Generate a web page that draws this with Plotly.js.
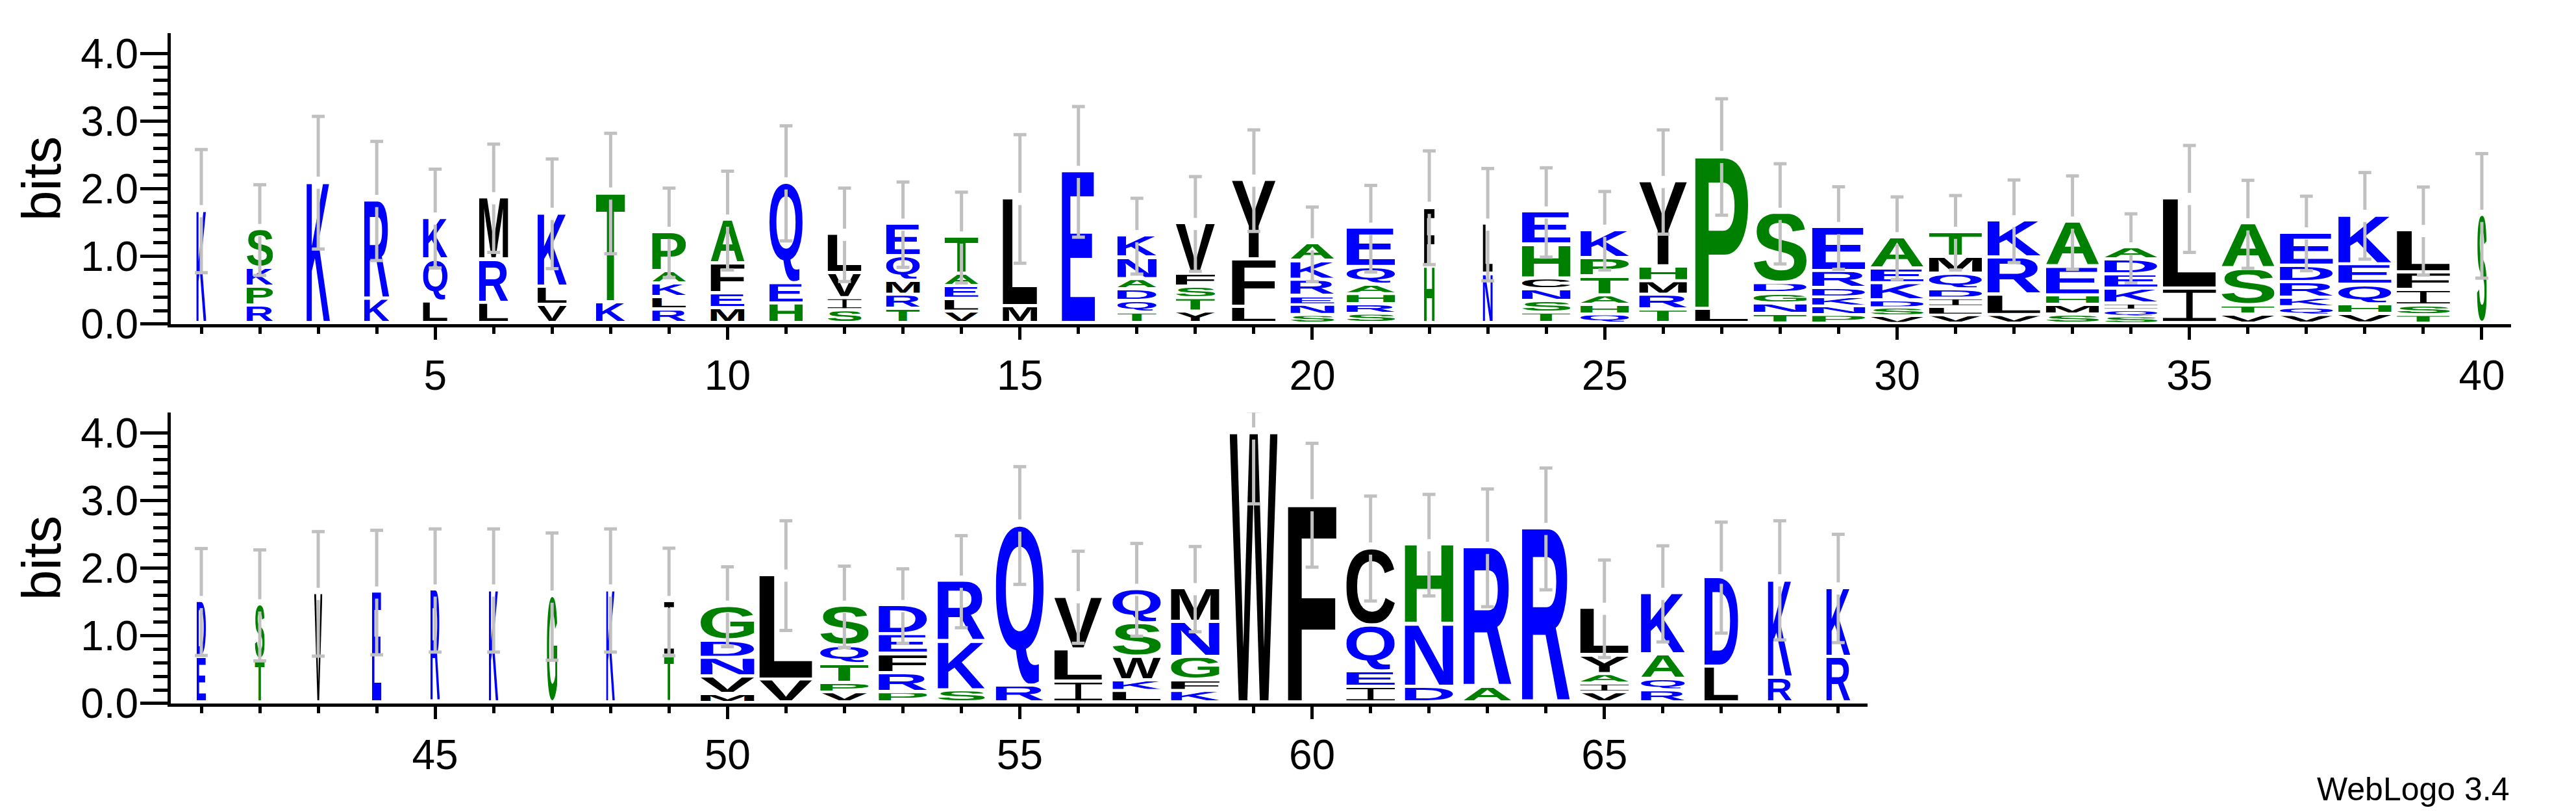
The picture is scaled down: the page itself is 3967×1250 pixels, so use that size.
<!DOCTYPE html>
<html><head><meta charset="utf-8">
<script src="https://cdn.plot.ly/plotly-3.0.1.min.js"></script>
<style>html,body{margin:0;padding:0;background:#fff}#chart{width:3967px;height:1250px}</style>
</head><body><div id="chart"></div>
<script>
const positions = [1,2,3,4,5,6,7,8,9,10,11,12,13,14,15,16,17,18,19,20,21,22,23,24,25,26,27,28,29,30,31,32,33,34,35,36,37,38,39,40,
  41,42,43,44,45,46,47,48,49,50,51,52,53,54,55,56,57,58,59,60,61,62,63,64,65,66,67,68,69];
// letters of each stack, bottom to top
const stackLetters = ["K","RPKS","K","KR","LQK","LRM","VLK","KT","RLKAP","MEFA",
  "HEQ","SIVL","TRMQE","VLEAT","ML","E","TQDANK","YTSFV","LFY","SNERKA",
  "SRHAQE","HF","NL","TSNCHE","QHATPK","TRMHY","LP","TNGDS","PNKDRE","VSDKEA",
  "VLIDQMT","VLRK","SMHEA","SQIKEDA","IL","VTSA","VQKRDE","VHQEK","TSIFL","S",
  "ED","TS","V","E","R","K","G","K","TI","MVNDG",
  "VL","VPTQS","PRFED","SKR","RQ","ILV","LKWSQ","KFGNM","W","F",
  "IEQC","DNH","AR","R","VIAYL","RQAK","LD","RK","RK"];
// letter heights in bits, bottom to top
const stackHeights = [
  [1.67],[0.26,0.28,0.28,0.57],[2.09],[0.36,1.46],[0.32,0.62,0.62],[0.30,0.64,0.92],[0.27,0.27,1.09],[0.31,1.62],
  [0.20,0.185,0.20,0.185,0.58],[0.22,0.22,0.44,0.65],
  [0.29,0.30,1.49],[0.19,0.18,0.37,0.58],[0.21,0.21,0.21,0.36,0.48],[0.17,0.19,0.19,0.18,0.55],[0.25,1.60],[2.25],
  [0.155,0.175,0.17,0.15,0.32,0.33],[0.17,0.20,0.17,0.19,0.75],[0.24,0.70,1.18],[0.12,0.15,0.13,0.24,0.28,0.26],
  [0.14,0.14,0.15,0.14,0.26,0.58],[0.84,0.88],[0.73,0.74],[0.155,0.175,0.17,0.16,0.50,0.49],[0.13,0.145,0.135,0.28,0.27,0.42],
  [0.20,0.22,0.20,0.22,1.26],[0.21,2.26],[0.136,0.154,0.15,0.15,1.04],[0.12,0.13,0.135,0.135,0.25,0.65],[0.11,0.12,0.11,0.25,0.22,0.46],
  [0.117,0.128,0.122,0.133,0.23,0.25,0.37],[0.12,0.30,0.55,0.55],[0.13,0.14,0.14,0.42,0.67],[0.10,0.10,0.09,0.22,0.21,0.22,0.18],[0.51,1.34],
  [0.13,0.13,0.54,0.675],[0.12,0.12,0.134,0.231,0.245,0.49],[0.136,0.144,0.29,0.30,0.73],[0.12,0.14,0.23,0.26,0.626],[1.60],
  [0.675,0.825],[0.64,0.81],[1.62],[1.64],[1.67],[1.67],[1.58],[1.67],[0.69,0.81],[0.127,0.257,0.276,0.255,0.515],
  [0.34,1.55],[0.15,0.14,0.28,0.27,0.59],[0.15,0.285,0.285,0.29,0.43],[0.18,0.72,0.90],[0.25,2.38],[0.31,0.475,0.785],
  [0.17,0.16,0.345,0.495,0.51],[0.17,0.16,0.345,0.515,0.50],[3.99],[2.93],
  [0.23,0.23,0.68,1.15],[0.23,0.93,1.18],[0.23,2.07],[2.58],[0.15,0.13,0.14,0.28,0.70],[0.18,0.17,0.36,0.91],[0.53,1.33],[0.37,1.45],[0.675,1.025]];
// stack widths (fraction of a column; narrow where the alignment has gaps)
const stackWidths = [0.17,0.45,0.40,0.43,0.42,0.50,0.50,0.50,0.58,0.58,
  0.57,0.58,0.58,0.58,0.59,0.57,0.67,0.67,0.75,0.75,
  0.83,0.18,0.17,0.83,0.83,0.82,0.91,0.91,0.91,0.91,
  0.91,0.91,0.91,0.91,0.91,0.91,0.91,0.91,0.91,0.17,
  0.16,0.17,0.14,0.16,0.16,0.16,0.18,0.15,0.17,0.92,
  0.91,0.83,0.83,0.81,0.82,0.82,0.83,0.83,0.82,0.83,
  0.83,0.83,0.82,0.82,0.83,0.75,0.58,0.41,0.41];
// error bar half-lengths (bits)
const errorBits = [0.91,0.67,0.98,0.88,0.73,0.80,0.81,0.89,0.66,0.73,
  0.85,0.69,0.63,0.67,0.95,0.965,0.56,0.70,0.75,0.55,
  0.64,0.84,0.83,0.66,0.58,0.77,0.86,0.74,0.61,0.61,
  0.55,0.61,0.69,0.51,0.79,0.65,0.55,0.64,0.65,0.92,
  0.79,0.82,0.92,0.92,0.91,0.91,0.94,0.91,0.795,0.59,
  0.81,0.60,0.55,0.68,0.87,0.68,0.685,0.63,1.04,0.915,
  0.775,0.75,0.87,0.90,0.72,0.71,0.82,0.88,0.80];
const maxBits = 4.32;          // log2(20): upper error bars are clipped here
const xTicksTop = [5,10,15,20,25,30,35,40];
const xTicksBottom = [45,50,55,60,65];
const yTickVals = [0,1,2,3,4];
const yTickText = ["0.0","1.0","2.0","3.0","4.0"];
const yMinorVals = [0.2,0.4,0.6,0.8,1.2,1.4,1.6,1.8,2.2,2.4,2.6,2.8,3.2,3.4,3.6,3.8];
const colorGroups = {"#0000ff":"RKDENQ", "#008000":"SGHTAP", "#000000":"YVMCLFIW"};

// ---- glyph images (letters stretched to fill their box) ----
const FONT_FAMILY = "Liberation Sans";
const cvs = document.createElement('canvas');
const ctx = cvs.getContext('2d');
ctx.font = 'bold 200px "' + FONT_FAMILY + '"';
const glyphCache = {};
function letterColor(ch){
  for (const c in colorGroups) if (colorGroups[c].indexOf(ch) >= 0) return c;
  return "#000000";
}
function glyphURI(ch){
  if (glyphCache[ch]) return glyphCache[ch];
  const col = letterColor(ch);
  let svg;
  if (ch === 'I') {
    // serif "I" as drawn by WebLogo
    svg = '<svg xmlns="http://www.w3.org/2000/svg" width="100" height="100" viewBox="0 0 100 100" preserveAspectRatio="none">' +
      '<rect x="0" y="0" width="100" height="10" fill="' + col + '"/>' +
      '<rect x="0" y="90" width="100" height="10" fill="' + col + '"/>' +
      '<rect x="44" y="0" width="12" height="100" fill="' + col + '"/></svg>';
  } else {
    const m = ctx.measureText(ch);
    const L = m.actualBoundingBoxLeft, R = m.actualBoundingBoxRight;
    const A = m.actualBoundingBoxAscent, D = m.actualBoundingBoxDescent;
    svg = '<svg xmlns="http://www.w3.org/2000/svg" width="' + (L+R).toFixed(2) + '" height="' + (A+D).toFixed(2) +
      '" viewBox="' + (-L).toFixed(2) + ' ' + (-A).toFixed(2) + ' ' + (L+R).toFixed(2) + ' ' + (A+D).toFixed(2) +
      '" preserveAspectRatio="none"><text x="0" y="0" font-family="' + FONT_FAMILY + '" font-weight="bold" font-size="200" fill="' +
      col + '">' + ch + '</text></svg>';
  }
  const uri = 'data:image/svg+xml;charset=utf-8,' + encodeURIComponent(svg);
  glyphCache[ch] = uri;
  return uri;
}

const images = [];
const totals = [];
positions.forEach((p, i) => {
  const top = p <= 40;
  let cum = 0;
  stackHeights[i].forEach((h, j) => {
    const ch = stackLetters[i][j];
    const g = Math.min(0.045, h * 0.3);
    images.push({
      source: glyphURI(ch), xref: top ? 'x' : 'x2', yref: top ? 'y' : 'y2',
      x: p, y: cum + h, sizex: stackWidths[i], sizey: h - g,
      xanchor: 'center', yanchor: 'top', sizing: 'stretch', layer: 'below'
    });
    cum += h;
  });
  totals.push(cum);
});

// ---- error bars: grey stems broken at the stack top, with caps ----
const BAR_GAP = 0.09, CAP_HALF = 0.11;
function errTrace(idx, xa, ya){
  const xs = [], ys = [];
  idx.forEach(i => {
    const p = positions[i], t = totals[i], e = errorBits[i];
    const hi = Math.min(t + e, maxBits), lo = t - e;
    xs.push(p, p, null, p - CAP_HALF, p + CAP_HALF, null, p, p, null, p - CAP_HALF, p + CAP_HALF, null);
    ys.push(t + BAR_GAP, hi, null, hi, hi, null, t - BAR_GAP, lo, null, lo, lo, null);
  });
  return {type: 'scatter', mode: 'lines', xaxis: xa, yaxis: ya, x: xs, y: ys,
    line: {color: '#c0c0c0', width: 5}, connectgaps: false, hoverinfo: 'skip', showlegend: false};
}
const topIdx = positions.map((p, i) => i).filter(i => positions[i] <= 40);
const botIdx = positions.map((p, i) => i).filter(i => positions[i] > 40);

const FONT = {family: '"Liberation Sans", Arial, sans-serif', size: 64, color: '#000'};
function xAxis(domain, range, anchor, major, minorVals){
  return {domain, range, anchor, showline: true, linewidth: 5, linecolor: '#000',
    ticks: 'outside', tickmode: 'array', tickvals: major, ticklen: 19, tickwidth: 5, tickcolor: '#000',
    minor: {tickmode: 'array', tickvals: minorVals, ticks: 'outside', ticklen: 10, tickwidth: 5, tickcolor: '#000'},
    showgrid: false, zeroline: false, tickfont: FONT, automargin: false, fixedrange: true};
}
function yAxis(domain, anchor){
  return {domain, range: [0, 4.3], anchor, showline: true, linewidth: 5, linecolor: '#000',
    ticks: 'outside', tickmode: 'array', tickvals: yTickVals, ticktext: yTickText,
    ticklen: 42, tickwidth: 5, tickcolor: '#000', ticklabelstandoff: -10,
    minor: {tickmode: 'array', tickvals: yMinorVals, ticks: 'outside', ticklen: 22, tickwidth: 5, tickcolor: '#000'},
    showgrid: false, zeroline: false, tickfont: FONT, automargin: false, fixedrange: true,
    title: {text: 'bits', font: {family: FONT.family, size: 84, color: '#000'}, standoff: 4}};
}

const layout = {
  width: 3967, height: 1250,
  margin: {l: 263, r: 100, t: 51, b: 167},
  paper_bgcolor: '#ffffff', plot_bgcolor: 'rgba(0,0,0,0)',
  showlegend: false,
  xaxis: xAxis([0, 1], [0.478, 40.5], 'y', xTicksTop, topIdx.map(i => positions[i])),
  yaxis: yAxis([0.5659, 1], 'x'),
  xaxis2: xAxis([0, 0.725], [40.478, 69.5], 'y2', xTicksBottom, botIdx.map(i => positions[i])),
  yaxis2: yAxis([0, 0.4341], 'x2'),
  images: images,
  annotations: [{text: 'WebLogo 3.4', xref: 'paper', yref: 'paper', x: 1, y: -0.128,
    xanchor: 'right', yanchor: 'middle', showarrow: false,
    font: {family: FONT.family, size: 50, color: '#000'}}]
};

Plotly.newPlot('chart', [errTrace(topIdx, 'x', 'y'), errTrace(botIdx, 'x2', 'y2')], layout,
  {staticPlot: true, displayModeBar: false});
</script></body></html>
